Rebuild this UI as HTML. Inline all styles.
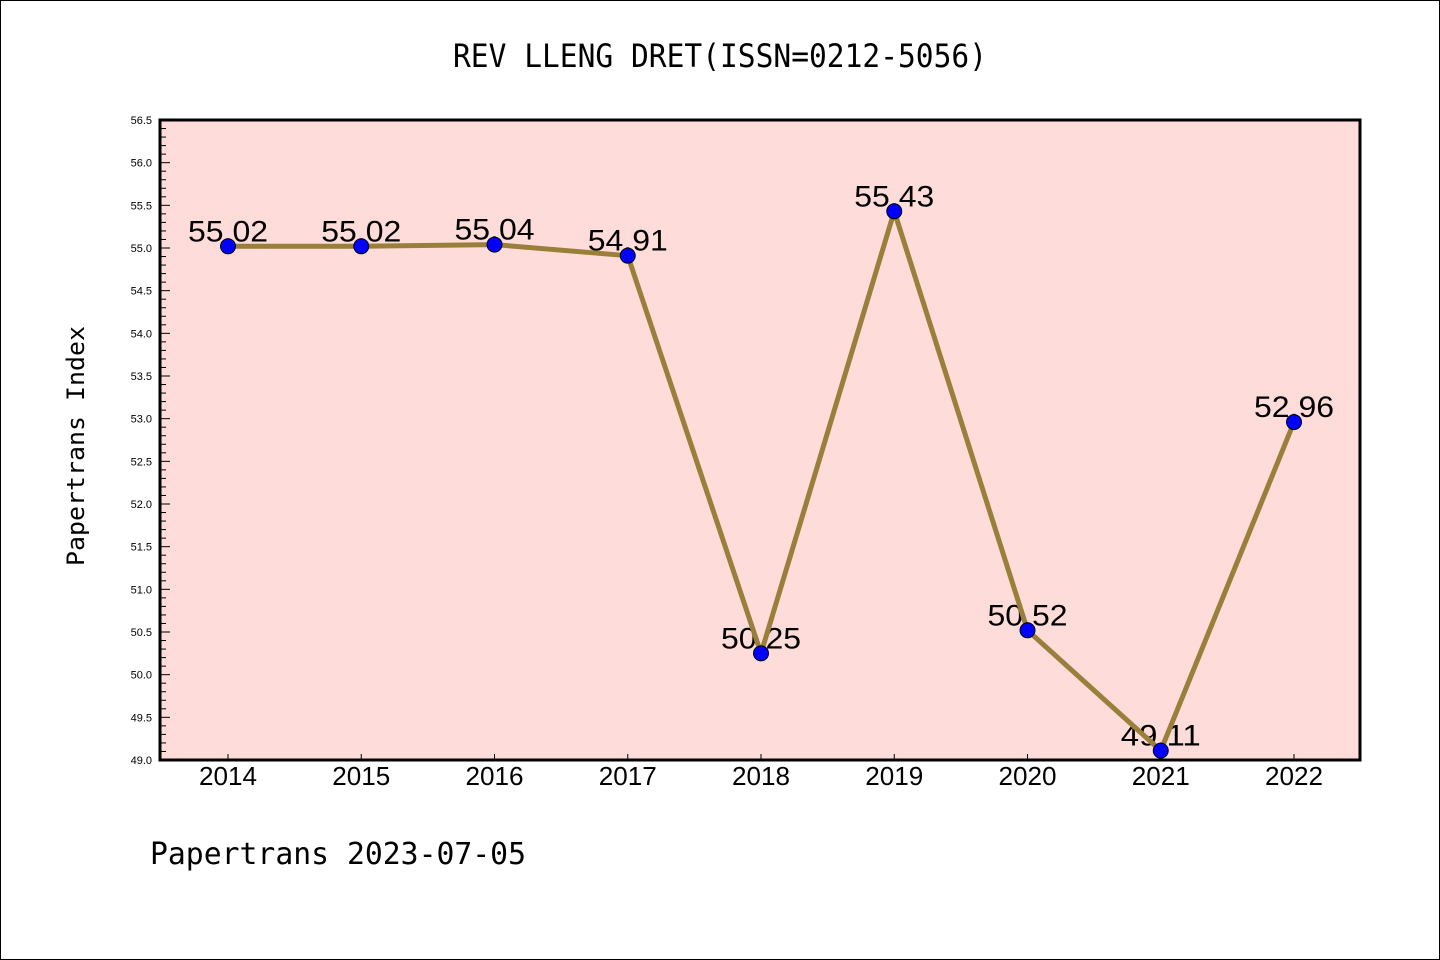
<!DOCTYPE html>
<html><head><meta charset="utf-8"><style>
html,body{margin:0;padding:0;background:#fff}
svg{display:block}
</style></head><body>
<svg id="chart" width="1440" height="960" viewBox="0 0 1440 960">
<rect x="0.5" y="0.5" width="1439" height="959" fill="#fff" stroke="#000" stroke-width="1"/>
<text x="720" y="67" text-anchor="middle" font-family="'WenQuanYi Zen Hei Mono','WenQuanYi Zen Hei',monospace" font-size="32" textLength="534" lengthAdjust="spacingAndGlyphs">REV LLENG DRET(ISSN=0212-5056)</text>
<rect x="160" y="120" width="1200" height="640" fill="#fedcd9"/>
<g id="yaxis"></g>
<g id="xaxis"></g>
<g id="labels"></g>
<g id="series"></g>
<rect x="160" y="120" width="1200" height="640" fill="none" stroke="#000" stroke-width="3"/>
<text transform="translate(84,446) rotate(-90)" text-anchor="middle" font-family="'WenQuanYi Zen Hei Mono','WenQuanYi Zen Hei',monospace" font-size="24" textLength="240" lengthAdjust="spacingAndGlyphs">Papertrans Index</text>
<text x="150" y="864" font-family="'WenQuanYi Zen Hei Mono','WenQuanYi Zen Hei',monospace" font-size="30" textLength="376" lengthAdjust="spacingAndGlyphs">Papertrans 2023-07-05</text>
</svg>
<script>
const years=["2014","2015","2016","2017","2018","2019","2020","2021","2022"];
const values=[55.02,55.02,55.04,54.91,50.25,55.43,50.52,49.11,52.96];
const valueLabels=["55.02","55.02","55.04","54.91","50.25","55.43","50.52","49.11","52.96"];
const yTicks=["49.0","49.5","50.0","50.5","51.0","51.5","52.0","52.5","53.0","53.5","54.0","54.5","55.0","55.5","56.0","56.5"];
const yMin=49.0,yMax=56.5;
const NS="http://www.w3.org/2000/svg";
function yS(v){return 760-(v-yMin)/(yMax-yMin)*640;}
function xS(i){return 228+i*133.25;}
function mk(tag,attrs,parent){const e=document.createElementNS(NS,tag);for(const k in attrs)e.setAttribute(k,attrs[k]);parent.appendChild(e);return e;}
const ya=document.getElementById('yaxis'),xa=document.getElementById('xaxis'),lb=document.getElementById('labels'),se=document.getElementById('series');
for(let k=0;k<=75;k++){const v=yMin+k*0.1;const y=yS(v);const major=k%5===0;
 const t=mk('line',{x1:160,x2:160+(major?10:6),y1:y,y2:y,stroke:'#000','stroke-width':1},ya);
 
 }
yTicks.forEach(s=>{const y=yS(parseFloat(s));
 const t=mk('text',{x:152,y:y+4,'text-anchor':'end','font-family':"'Liberation Sans',sans-serif",'font-size':11},ya);t.textContent=s;
 
 });
years.forEach((yr,i)=>{const x=xS(i);
 const t=mk('line',{x1:x,x2:x,y1:760,y2:754,stroke:'#000','stroke-width':1},xa);
 
 
 const l=mk('text',{x:x,y:785,'text-anchor':'middle','font-family':"'Liberation Sans',sans-serif",'font-size':26,textLength:58,lengthAdjust:'spacingAndGlyphs'},xa);l.textContent=yr;
 
 });
values.forEach((v,i)=>{const l=mk('text',{x:xS(i),y:yS(v)-5,'text-anchor':'middle','font-family':"'Liberation Sans',sans-serif",'font-size':30,textLength:80,lengthAdjust:'spacingAndGlyphs'},lb);l.textContent=valueLabels[i];
 
 });
const p=mk('polyline',{points:values.map((v,i)=>xS(i)+','+yS(v)).join(' '),fill:'none',stroke:'#9a7f3a','stroke-width':5,'stroke-linejoin':'round'},se);


values.forEach((v,i)=>{const c=mk('circle',{cx:xS(i),cy:yS(v),r:7.5,fill:'#0000ff',stroke:'#000','stroke-width':1},se);
 
 });
</script>
</body></html>
